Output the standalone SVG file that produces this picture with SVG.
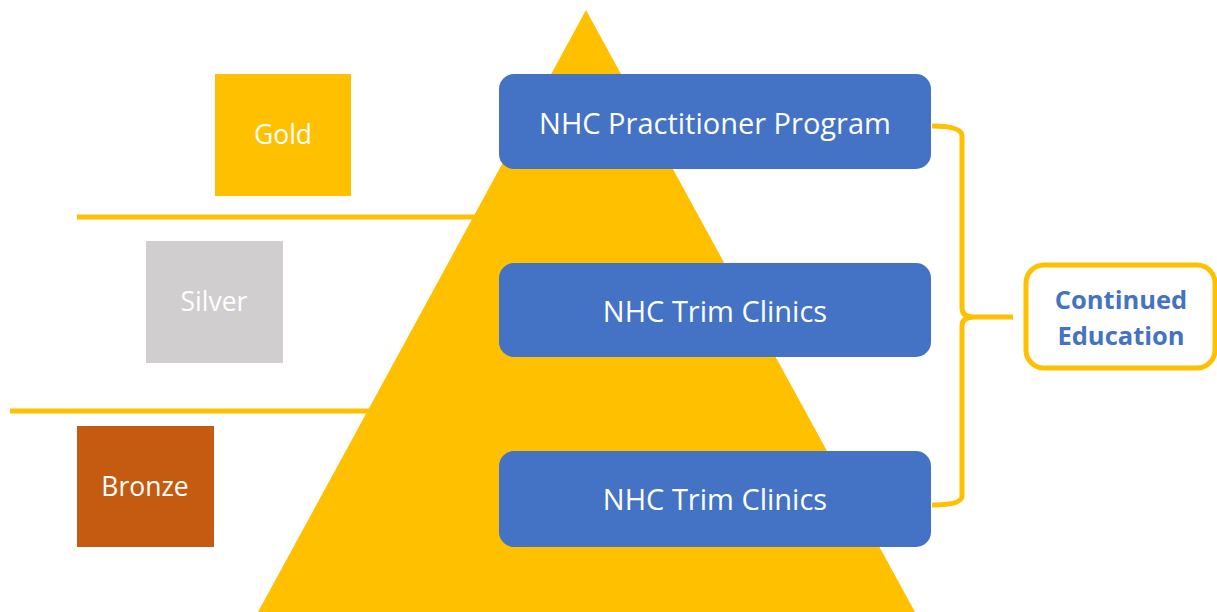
<svg xmlns="http://www.w3.org/2000/svg" width="1217" height="612" viewBox="0 0 1217 612">
<style>
.tier{font-family:"Open Sans","Liberation Sans",sans-serif;font-size:26.5px;fill:#ffffff;text-anchor:middle;dominant-baseline:central}
.prog{fill:#4472C4}
.pt{font-family:"Open Sans","Liberation Sans",sans-serif;font-size:29px;fill:#ffffff;text-anchor:middle;dominant-baseline:central}
.ce{font-family:"Open Sans","Liberation Sans",sans-serif;font-size:25.5px;font-weight:bold;fill:#4472C4;text-anchor:middle;dominant-baseline:central}
.gl{stroke:#FFC000;stroke-width:5;fill:none}
</style>
<rect width="1217" height="612" fill="#ffffff"/>
<g id="dividers">
<line class="gl" x1="77" y1="217" x2="480" y2="217"/>
<line class="gl" x1="10" y1="411" x2="380" y2="411"/>
</g>
<g id="pyramid"><polygon points="586,10 915,612 258,612" fill="#FFC000"/></g>
<g id="gold"><rect x="215" y="74" width="136" height="122" fill="#FFC000"/><text class="tier" x="283" y="134">Gold</text></g>
<g id="silver"><rect x="146" y="241" width="137" height="122" fill="#D0CECE"/><text class="tier" x="214" y="301">Silver</text></g>
<g id="bronze"><rect x="77" y="426" width="137" height="121" fill="#C55A11"/><text class="tier" x="145" y="486">Bronze</text></g>
<g id="practitioner"><rect class="prog" x="499" y="74" width="432" height="95" rx="15"/><text class="pt" x="715" y="122">NHC Practitioner Program</text></g>
<g id="trim1"><rect class="prog" x="499" y="263" width="432" height="94" rx="15"/><text class="pt" x="715" y="310">NHC Trim Clinics</text></g>
<g id="trim2"><rect class="prog" x="499" y="451" width="432" height="96" rx="15"/><text class="pt" x="715" y="498">NHC Trim Clinics</text></g>
<g id="connectors">
<path class="gl" d="M932,126 Q962,126 962,136 L962,308 Q962,317 974,317 L1013,317 M974,317 Q962,317 962,326 L962,496 Q962,505 932,505" stroke-linejoin="round"/>
</g>
<g id="continued"><rect x="1026" y="265" width="189" height="103" rx="18" fill="#ffffff" stroke="#FFC000" stroke-width="5"/><text class="ce" x="1121" y="299">Continued</text><text class="ce" x="1121" y="335">Education</text></g>
</svg>
